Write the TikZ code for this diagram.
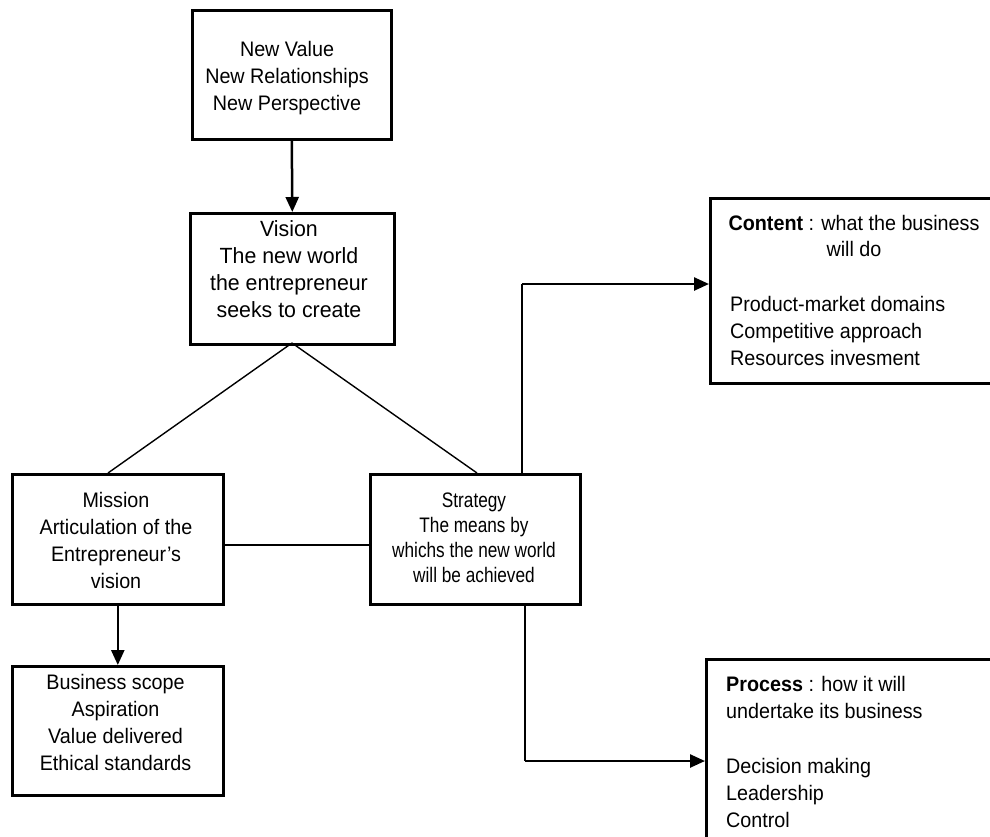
\documentclass[tikz,border=0pt]{standalone}
\usepackage{fontspec}
\setmainfont{Liberation Sans}[FakeStretch=0.94]
\newfontfamily\visionsans{Liberation Sans}[FakeStretch=0.97]
\newfontfamily\narrowsans{Liberation Sans}[FakeStretch=0.82]
\usetikzlibrary{arrows.meta}

\tikzset{
  box/.style={draw, line width=2.6pt, inner sep=0pt, anchor=north west},
  % multi-line texts are placed by the baseline of their last line
  boxtext/.style={inner sep=0pt, align=center, anchor=base,
    font=\fontsize{21}{27}\selectfont},
  listtext/.style={inner sep=0pt, align=left, anchor=base west,
    font=\fontsize{21}{26.8}\selectfont},
  link/.style={line width=1.4pt},
  flow/.style={line width=2.5pt, -{Triangle[length=15pt,width=13pt]}},
}

\begin{document}
\begin{tikzpicture}[x=1pt, y=-1pt]
  \useasboundingbox (0,0) rectangle (990,836);
  \clip (0,0) rectangle (990,836);

  % boxes
  \node[box, minimum width=199pt, minimum height=129pt] (top) at (191,9) {};
  \node[box, minimum width=204pt, minimum height=131pt] (vision) at (189,212) {};
  \node[box, minimum width=211pt, minimum height=130pt] (mission) at (11,473) {};
  \node[box, minimum width=210pt, minimum height=130pt] (strategy) at (369,473) {};
  \node[box, minimum width=211pt, minimum height=129pt] (business) at (11,665) {};
  \node[box, minimum width=300pt, minimum height=185pt] (content) at (709,197) {};
  \node[box, minimum width=300pt, minimum height=220pt] (process) at (705,658) {};

  % box texts
  \node[boxtext] (toptext) at (287,110) {New Value\\New Relationships\\New Perspective};
  \node[boxtext, font=\visionsans\fontsize{22}{26.7}\selectfont] (visiontext) at (289,317)
    {Vision\\The new world\\the entrepreneur\\seeks to create};
  \node[boxtext] (missiontext) at (116,588)
    {Mission\\Articulation of the\\Entrepreneur’s\\vision};
  \node[boxtext, font=\narrowsans\fontsize{21}{24.7}\selectfont] (strategytext) at (474,582)
    {Strategy\\The means by\\whichs the new world\\will be achieved};
  \node[boxtext] (businesstext) at (115.5,770)
    {Business scope\\Aspiration\\Value delivered\\Ethical standards};
  \node[boxtext, font=\fontsize{21}{26}\selectfont] (contenthead) at (854,256)
    {\textbf{Content} : what the business\\will do};
  \node[listtext] (contentlist) at (730,365)
    {Product-market domains\\Competitive approach\\Resources invesment};
  \node[listtext] (processhead) at (726,718)
    {\textbf{Process} : how it will\\undertake its business};
  \node[listtext] (processlist) at (726,827)
    {Decision making\\Leadership\\Control};

  % junction points
  \coordinate (vtip) at (292,343);
  \coordinate (mjoin) at (108,473);
  \coordinate (sjoin) at (477,473);
  \coordinate (mslevel) at (300,545);
  \coordinate (cturn) at (522,284);
  \coordinate (pturn) at (525,761);

  % connectors
  \draw[flow] (top.south) -- (vision.north);
  \draw[link] (vtip) -- (mjoin);
  \draw[link] (vtip) -- (sjoin);
  \draw[link] (mission.east |- mslevel) -- (strategy.west |- mslevel);
  \draw[flow] (mission.south) -- (business.north);
  \draw[link] (strategy.north -| cturn) -- (cturn);
  \draw[flow] (cturn) -- (content.west |- cturn);
  \draw[link] (strategy.south -| pturn) -- (pturn);
  \draw[flow] (pturn) -- (process.west |- pturn);
\end{tikzpicture}
\end{document}
